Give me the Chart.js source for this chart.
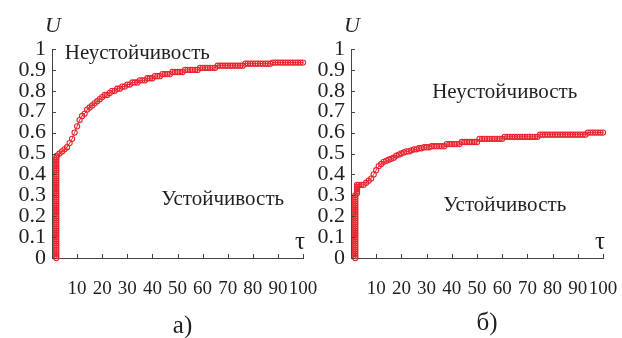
<!DOCTYPE html>
<html>
<head>
<meta charset="utf-8">
<script src="https://cdn.jsdelivr.net/npm/chart.js@4"></script>
<style>
  body { margin: 0; background: #fff; }
  #wrap { position: relative; width: 622px; height: 338px; }
  canvas { position: absolute; top: 0; }
</style>
</head>
<body>
<div id="wrap">
  <canvas id="chartB" width="311" height="338" style="left:311px"></canvas>
  <canvas id="chartA" width="330" height="338" style="left:0"></canvas>
</div>
<script>
// tick labels
var xTicks = [10, 20, 30, 40, 50, 60, 70, 80, 90, 100];
var yTicks = ['0', '0.1', '0.2', '0.3', '0.4', '0.5', '0.6', '0.7', '0.8', '0.9', '1'];

// panel а) : vertical rise at tau = 1.7, then the curve at tau = 2..100
var riseTauA = 1.7;
var riseA = [0, 0.01, 0.02, 0.03, 0.04, 0.05, 0.06, 0.07, 0.08, 0.09,
  0.10, 0.11, 0.12, 0.13, 0.14, 0.15, 0.16, 0.17, 0.18, 0.19,
  0.20, 0.21, 0.22, 0.23, 0.24, 0.25, 0.26, 0.27, 0.28, 0.29,
  0.30, 0.31, 0.32, 0.33, 0.34, 0.35, 0.36, 0.37, 0.38, 0.39,
  0.40, 0.41, 0.42, 0.43, 0.44, 0.45, 0.46, 0.47, 0.48];
var startTauA = 2;
var uA = [0.49, 0.50, 0.51, 0.52, 0.53, 0.55, 0.57, 0.60, 0.63, 0.66,
  0.68, 0.69, 0.71, 0.72, 0.73, 0.74, 0.75, 0.76, 0.77, 0.78,
  0.78, 0.79, 0.80, 0.80, 0.81, 0.81, 0.82, 0.82, 0.83, 0.83,
  0.84, 0.84, 0.84, 0.85, 0.85, 0.85, 0.86, 0.86, 0.86, 0.87,
  0.87, 0.87, 0.88, 0.88, 0.88, 0.88, 0.89, 0.89, 0.89, 0.89,
  0.89, 0.90, 0.90, 0.90, 0.90, 0.90, 0.90, 0.91, 0.91, 0.91,
  0.91, 0.91, 0.91, 0.91, 0.92, 0.92, 0.92, 0.92, 0.92, 0.92,
  0.92, 0.92, 0.92, 0.92, 0.92, 0.93, 0.93, 0.93, 0.93, 0.93,
  0.93, 0.93, 0.93, 0.93, 0.93, 0.93, 0.935, 0.935, 0.935, 0.935,
  0.935, 0.935, 0.935, 0.935, 0.935, 0.935, 0.935, 0.935, 0.935];

// panel б) : vertical rise at tau = 1.7, small step at 2.4, then tau = 3..100
var riseTauB = 1.7;
var riseB = [0, 0.01, 0.02, 0.03, 0.04, 0.05, 0.06, 0.07, 0.08, 0.09,
  0.10, 0.11, 0.12, 0.13, 0.14, 0.15, 0.16, 0.17, 0.18, 0.19,
  0.20, 0.21, 0.22, 0.23, 0.24, 0.25, 0.26, 0.27, 0.28, 0.29, 0.30];
var stepTauB = 2.4;
var stepB = [0.31, 0.32, 0.33, 0.34, 0.35];
var startTauB = 3;
var uB = [0.35, 0.35, 0.35, 0.36, 0.37, 0.38, 0.40, 0.42, 0.44, 0.45,
  0.46, 0.465, 0.47, 0.475, 0.48, 0.49, 0.495, 0.50, 0.505, 0.51,
  0.51, 0.515, 0.52, 0.52, 0.525, 0.525, 0.53, 0.53, 0.53, 0.535,
  0.535, 0.535, 0.535, 0.535, 0.535, 0.545, 0.545, 0.545, 0.545, 0.545,
  0.545, 0.555, 0.555, 0.555, 0.555, 0.555, 0.555, 0.555, 0.57, 0.57,
  0.57, 0.57, 0.57, 0.57, 0.57, 0.57, 0.57, 0.57, 0.58, 0.58,
  0.58, 0.58, 0.58, 0.58, 0.58, 0.58, 0.58, 0.58, 0.58, 0.58,
  0.58, 0.58, 0.59, 0.59, 0.59, 0.59, 0.59, 0.59, 0.59, 0.59,
  0.59, 0.59, 0.59, 0.59, 0.59, 0.59, 0.59, 0.59, 0.59, 0.59,
  0.59, 0.60, 0.60, 0.60, 0.60, 0.60, 0.60, 0.60];

var red = 'rgb(232, 36, 46)';
var ink = '#231f20';
var serif = '"Liberation Serif", "Times New Roman", serif';

function buildPoints(riseTau, rise, stepTau, step, startTau, u) {
  var pts = [];
  rise.forEach(function(v) { pts.push({x: riseTau, y: v}); });
  step.forEach(function(v) { pts.push({x: stepTau, y: v}); });
  u.forEach(function(v, i) { pts.push({x: startTau + i, y: v}); });
  return pts;
}

// inward tick marks, axis letters and the text labels
var decor = {
  id: 'decor',
  afterDraw: function(chart) {
    var ctx = chart.ctx, xs = chart.scales.x, ys = chart.scales.y;
    var o = chart.options.plugins.decor;
    ctx.save();
    ctx.strokeStyle = '#444';
    ctx.lineWidth = 1;
    xTicks.forEach(function(t) {
      var px = Math.round(xs.getPixelForValue(t)) + 0.5;
      ctx.beginPath(); ctx.moveTo(px, ys.bottom); ctx.lineTo(px, ys.bottom - 4); ctx.stroke();
    });
    yTicks.forEach(function(t) {
      var py = Math.round(ys.getPixelForValue(parseFloat(t))) + 0.5;
      ctx.beginPath(); ctx.moveTo(xs.left, py); ctx.lineTo(xs.left + 4, py); ctx.stroke();
    });
    ctx.fillStyle = ink;
    ctx.textAlign = 'center';
    ctx.textBaseline = 'middle';
    ctx.font = 'italic 22px ' + serif;
    ctx.fillText('U', xs.left + 1, ys.top - 23);
    ctx.font = '25px ' + serif;
    ctx.fillText('τ', xs.right - 3, ys.bottom - 16);
    ctx.font = '21px ' + serif;
    o.labels.forEach(function(l) {
      ctx.fillText(l.text, xs.getPixelForValue(l.x), ys.getPixelForValue(l.y));
    });
    ctx.font = '25px ' + serif;
    ctx.fillText(o.caption.text, xs.getPixelForValue(o.caption.x), o.caption.top);
    ctx.restore();
  }
};

function makeChart(id, points, leftW, rightPad, labels, caption) {
  new Chart(document.getElementById(id), {
    type: 'scatter',
    data: {
      datasets: [{
        data: points,
        showLine: true,
        borderColor: red,
        borderWidth: 1,
        pointStyle: 'circle',
        pointRadius: 2.6,
        pointBorderWidth: 1.1,
        pointBorderColor: red,
        pointBackgroundColor: 'rgba(255,255,255,0)',
        clip: false
      }]
    },
    options: {
      responsive: false,
      animation: false,
      layout: { padding: { left: 0, top: 49, right: rightPad, bottom: 0 } },
      plugins: {
        legend: { display: false },
        tooltip: { enabled: false },
        decor: { labels: labels, caption: caption }
      },
      scales: {
        x: {
          type: 'linear', min: 0, max: 100,
          afterFit: function(s) { s.height = 80; s.paddingLeft = 0; s.paddingRight = 0; },
          grid: { display: false, drawTicks: false },
          border: { display: true, color: '#444', width: 1 },
          ticks: {
            stepSize: 10, padding: 20, color: ink, maxRotation: 0, autoSkip: false,
            font: { family: serif, size: 19 },
            callback: function(v) { return xTicks.indexOf(v) >= 0 ? String(v) : ''; }
          }
        },
        y: {
          min: 0, max: 1,
          afterFit: function(s) { s.width = leftW; s.paddingTop = 0; s.paddingBottom = 0; },
          grid: { display: false, drawTicks: false },
          border: { display: true, color: '#444', width: 1 },
          ticks: {
            stepSize: 0.1, padding: 6, color: ink, autoSkip: false,
            font: { family: serif, size: 22 },
            callback: function(v) { return yTicks[Math.round(v * 10)]; }
          }
        }
      }
    },
    plugins: [decor]
  });
}

makeChart('chartA', buildPoints(riseTauA, riseA, 0, [], startTauA, uA), 52, 27,
  [{text: 'Неустойчивость', x: 34, y: 0.98}, {text: 'Устойчивость', x: 68, y: 0.28}],
  {text: 'а)', x: 52, top: 326});
makeChart('chartB', buildPoints(riseTauB, riseB, stepTauB, stepB, startTauB, uB), 40, 19,
  [{text: 'Неустойчивость', x: 61, y: 0.79}, {text: 'Устойчивость', x: 61, y: 0.25}],
  {text: 'б)', x: 54, top: 323});
</script>
</body>
</html>
